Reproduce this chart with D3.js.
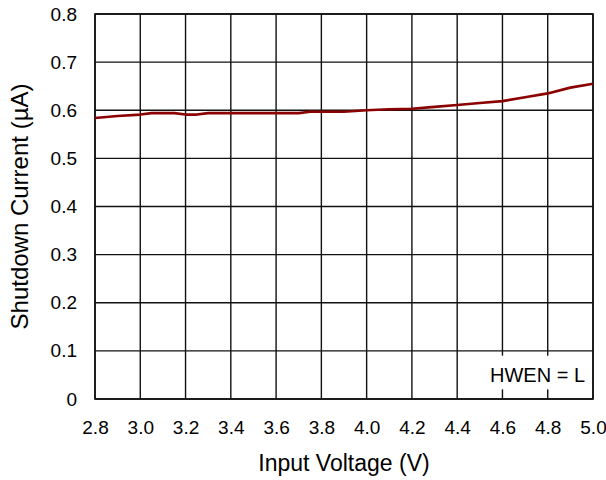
<!DOCTYPE html>
<html>
<head>
<meta charset="utf-8">
<script src="https://cdn.jsdelivr.net/npm/d3@7"></script>
<style>
html,body{margin:0;padding:0;background:#fff;}
svg text{font-family:"Liberation Sans", Arial, sans-serif;fill:#000;}
</style>
</head>
<body>
<svg id="chart" width="606" height="480"></svg>
<script>
const voltage = [2.8, 2.9, 3.0, 3.05, 3.15, 3.2, 3.25, 3.3, 3.4, 3.5, 3.6, 3.7, 3.75, 3.9, 4.0, 4.1, 4.2, 4.3, 4.4, 4.5, 4.6, 4.7, 4.8, 4.9, 5.0];
const current = [0.584, 0.588, 0.591, 0.594, 0.594, 0.591, 0.591, 0.594, 0.594, 0.594, 0.594, 0.594, 0.597, 0.597, 0.600, 0.602, 0.603, 0.607, 0.611, 0.615, 0.619, 0.627, 0.635, 0.647, 0.655];
const xTicks = [2.8, 3.0, 3.2, 3.4, 3.6, 3.8, 4.0, 4.2, 4.4, 4.6, 4.8, 5.0];
const yTicks = [0, 0.1, 0.2, 0.3, 0.4, 0.5, 0.6, 0.7, 0.8];
const xTitle = "Input Voltage (V)";
const yTitle = "Shutdown Current (µA)";
const note = "HWEN = L";

const svg = d3.select("#chart");
const L = 95, R = 593, T = 14, B = 399;
const x = d3.scaleLinear().domain([2.8, 5.0]).range([L, R]);
const y = d3.scaleLinear().domain([0, 0.8]).range([B, T]);

// grid
const g = svg.append("g");
g.selectAll("line.vx").data(xTicks).join("line")
  .attr("x1", d => x(d)).attr("x2", d => x(d)).attr("y1", T).attr("y2", B)
  .attr("stroke", "#111").attr("stroke-width", 1.4);
g.selectAll("line.hy").data(yTicks).join("line")
  .attr("y1", d => y(d)).attr("y2", d => y(d)).attr("x1", L).attr("x2", R)
  .attr("stroke", "#111").attr("stroke-width", 1.4);

// axes labels via d3 axes
const xAxis = svg.append("g").attr("transform", `translate(0,${B})`)
  .call(d3.axisBottom(x).tickValues(xTicks).tickFormat(d3.format(".1f")).tickSize(0).tickPadding(22));
xAxis.select(".domain").remove();
xAxis.selectAll("text").attr("font-size", 19).attr("font-family", "Liberation Sans, Arial, sans-serif").attr("fill", "#000");

const yAxis = svg.append("g").attr("transform", `translate(${L},0)`)
  .call(d3.axisLeft(y).tickValues(yTicks).tickFormat(d => d === 0 ? "0" : d3.format(".1f")(d)).tickSize(0).tickPadding(18));
yAxis.select(".domain").remove();
yAxis.selectAll("text").attr("font-size", 19).attr("font-family", "Liberation Sans, Arial, sans-serif").attr("fill", "#000");

// note box
svg.append("rect").attr("x", x(4.5)).attr("y", y(0.09)).attr("width", x(4.97) - x(4.5)).attr("height", y(0.02) - y(0.09)).attr("fill", "#fff");
svg.append("text").attr("x", x(4.755)).attr("y", y(0.035)).attr("text-anchor", "middle").attr("font-size", 20).text(note);

// frame
svg.append("rect").attr("x", L).attr("y", T).attr("width", R - L).attr("height", B - T)
  .attr("fill", "none").attr("stroke", "#111").attr("stroke-width", 1.6);

// data line
svg.append("path").datum(voltage.map((v, i) => [v, current[i]]))
  .attr("fill", "none").attr("stroke", "#8b0000").attr("stroke-width", 2.6)
  .attr("stroke-linejoin", "round")
  .attr("d", d3.line().x(d => x(d[0])).y(d => y(d[1])));

// titles
svg.append("text").attr("x", (L + R) / 2).attr("y", 471).attr("text-anchor", "middle").attr("font-size", 23).text(xTitle);
svg.append("text").attr("transform", `translate(28,${(T + B) / 2}) rotate(-90)`).attr("text-anchor", "middle").attr("font-size", 24).text(yTitle);
</script>
</body>
</html>
